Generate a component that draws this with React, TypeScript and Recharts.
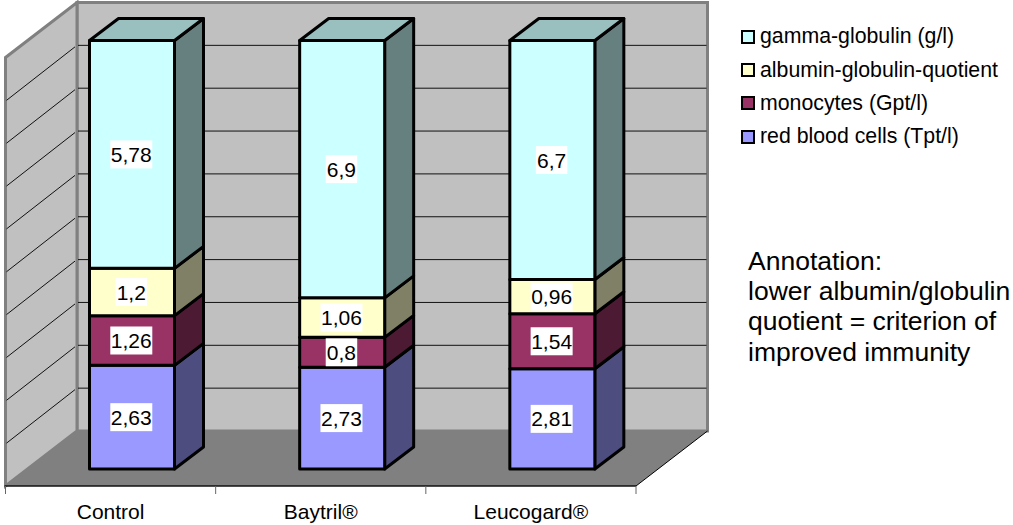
import React from 'react';
import { BarChart, Bar, XAxis, YAxis, CartesianGrid, Legend, LabelList } from 'recharts';

const categories = ['Control', 'Baytril®', 'Leucogard®'];
const redBloodCells = [2.63, 2.73, 2.81];
const monocytes = [1.26, 0.8, 1.54];
const quotient = [1.2, 1.06, 0.96];
const gammaGlobulin = [5.78, 6.9, 6.7];
const gridTicks = [0, 0.1, 0.2, 0.3, 0.4, 0.5, 0.6, 0.7, 0.8, 0.9, 1];
const annotation = ['Annotation:', 'lower albumin/globulin', 'quotient = criterion of', 'improved immunity'];

const data = categories.map((name, i) => ({
  name,
  red: redBloodCells[i],
  mono: monocytes[i],
  quot: quotient[i],
  gamma: gammaGlobulin[i],
}));

const FONT = '"Liberation Sans", Arial, sans-serif';
const WIDTH = 1013;
const HEIGHT = 525;
const PLOT = { left: 26.5, right: 657, top: 40.5, bottom: 469 };

// box depth of the bars, and how far the walls sit from the bars' front plane
const BAR_DX = 29;
const BAR_DY = -22;
const BACK_DX = 50.5;
const BACK_DY = -38;
const FRONT_DX = -21;
const FRONT_DY = 17;

const pts = (...p: number[][]) => p.map((q) => q.join(',')).join(' ');

function makeBox(side: string, top: string, isTop: boolean) {
  return function Box(props: any) {
    const { x, y, width, height, fill } = props;
    const r = x + width;
    const b = y + height;
    return (
      <g stroke="#000" strokeWidth={3} strokeLinejoin="round">
        <polygon fill={side} points={pts([r, y], [r + BAR_DX, y + BAR_DY], [r + BAR_DX, b + BAR_DY], [r, b])} />
        {isTop && (
          <polygon fill={top} points={pts([x, y], [x + BAR_DX, y + BAR_DY], [r + BAR_DX, y + BAR_DY], [r, y])} />
        )}
        <rect x={x} y={y} width={width} height={height} fill={fill} />
      </g>
    );
  };
}

function ValueLabel(props: any) {
  const { x, y, width, height, value } = props;
  const text = String(value).replace('.', ',');
  const w = text.length * 10.5;
  const cx = x + width / 2 - 0.7;
  const cy = y + height / 2;
  return (
    <g>
      <rect x={cx - w / 2} y={cy - 14} width={w} height={28} fill="#fff" />
      <text x={cx} y={cy + 7.5} textAnchor="middle" fontFamily={FONT} fontSize={21} fill="#000">
        {text}
      </text>
    </g>
  );
}

function Walls() {
  const fl = PLOT.left + FRONT_DX;
  const fr = PLOT.right + FRONT_DX;
  const fb = PLOT.bottom + FRONT_DY;
  const bl = PLOT.left + BACK_DX;
  const br = PLOT.right + BACK_DX;
  const bb = PLOT.bottom + BACK_DY;
  const bt = PLOT.top + BACK_DY;
  const ft = bt + (fb - bb);
  return (
    <svg width={WIDTH} height={HEIGHT} style={{ position: 'absolute', left: 0, top: 0 }}>
      <rect x={bl} y={bt} width={br - bl} height={bb - bt} fill="#c0c0c0" stroke="#808080" strokeWidth={3} />
      <polygon points={pts([fl, ft], [bl, bt], [bl, bb], [fl, fb])} fill="#c0c0c0" stroke="#808080" strokeWidth={3} />
      <polygon points={pts([fl, fb], [fr, fb], [br, bb], [bl, bb])} fill="#808080" />
      <line x1={fr} y1={fb} x2={br} y2={bb} stroke="#000" strokeWidth={1} />
      <line x1={fl - 1} y1={fb} x2={fr} y2={fb} stroke="#111" strokeWidth={1.5} />
      {[0, 1, 2, 3].map((i) => {
        const tx = fl + (i * (fr - fl)) / 3;
        return <line key={i} x1={tx} y1={fb} x2={tx} y2={fb + 8} stroke="#666" strokeWidth={1} />;
      })}
    </svg>
  );
}

// gridline drawn on the back wall and running along the left wall
function WallGridLine(props: any) {
  const y = props.y1;
  const backY = y + BACK_DY;
  if (y <= PLOT.top + 1 || y >= PLOT.bottom - 1) return <g />;
  const bl = PLOT.left + BACK_DX;
  const br = PLOT.right + BACK_DX;
  const fl = PLOT.left + FRONT_DX;
  return (
    <g stroke="#111" strokeWidth={1}>
      <line x1={bl + 1} y1={backY} x2={br - 1} y2={backY} />
      <line x1={bl - 2} y1={backY + 1.5} x2={fl + 1} y2={backY + FRONT_DY - BACK_DY} />
    </g>
  );
}

function CategoryTick(props: any) {
  const { x, y, payload } = props;
  return (
    <text x={x + FRONT_DX} y={y + 42} textAnchor="middle" fontFamily={FONT} fontSize={21} fill="#000">
      {payload.value}
    </text>
  );
}

function LegendBox(props: any) {
  const items = [...(props.payload || [])].reverse();
  return (
    <div style={{ fontFamily: FONT, fontSize: 21.3, color: '#000' }}>
      {items.map((it: any) => (
        <div key={it.value} style={{ display: 'flex', alignItems: 'center', height: 33.4, whiteSpace: 'nowrap' }}>
          <span
            style={{
              display: 'inline-block',
              width: 10,
              height: 10,
              marginRight: 5,
              background: it.color,
              border: '2.5px solid #000',
            }}
          />
          {it.value}
        </div>
      ))}
    </div>
  );
}

export default function App() {
  return (
    <div style={{ position: 'absolute', left: 0, top: 0, width: WIDTH, height: HEIGHT }}>
      <Walls />
      <div style={{ position: 'absolute', left: 0, top: 0 }}>
        <BarChart
          width={WIDTH}
          height={HEIGHT}
          data={data}
          stackOffset="expand"
          barSize={85}
          margin={{ top: PLOT.top, left: PLOT.left, right: WIDTH - PLOT.right, bottom: 0 }}
        >
          <CartesianGrid vertical={false} horizontal={WallGridLine as any} />
          <XAxis dataKey="name" height={HEIGHT - PLOT.bottom} axisLine={false} tickLine={false} tick={CategoryTick as any} />
          <YAxis hide type="number" domain={[0, 1]} ticks={gridTicks} />
          <Bar dataKey="red" name="red blood cells (Tpt/l)" stackId="a" fill="#9999ff" isAnimationActive={false} shape={makeBox('#4d4d80', '#7373bf', false)}>
            <LabelList dataKey="red" content={ValueLabel as any} />
          </Bar>
          <Bar dataKey="mono" name="monocytes (Gpt/l)" stackId="a" fill="#993366" isAnimationActive={false} shape={makeBox('#4d1a33', '#73264d', false)}>
            <LabelList dataKey="mono" content={ValueLabel as any} />
          </Bar>
          <Bar dataKey="quot" name="albumin-globulin-quotient" stackId="a" fill="#ffffcc" isAnimationActive={false} shape={makeBox('#808066', '#bfbf99', false)}>
            <LabelList dataKey="quot" content={ValueLabel as any} />
          </Bar>
          <Bar dataKey="gamma" name="gamma-globulin (g/l)" stackId="a" fill="#ccffff" isAnimationActive={false} shape={makeBox('#668080', '#99bfbf', true)}>
            <LabelList dataKey="gamma" content={ValueLabel as any} />
          </Bar>
          <Legend
            layout="vertical"
            align="center"
            verticalAlign="middle"
            itemSorter={null as any}
            content={LegendBox as any}
            wrapperStyle={{ left: 741, top: 20, width: 270 }}
          />
          <text fontFamily={FONT} fontSize={26.5} fill="#000">
            {annotation.map((line, i) => (
              <tspan key={line} x={748} y={270 + i * 30.2}>
                {line}
              </tspan>
            ))}
          </text>
        </BarChart>
      </div>
    </div>
  );
}
